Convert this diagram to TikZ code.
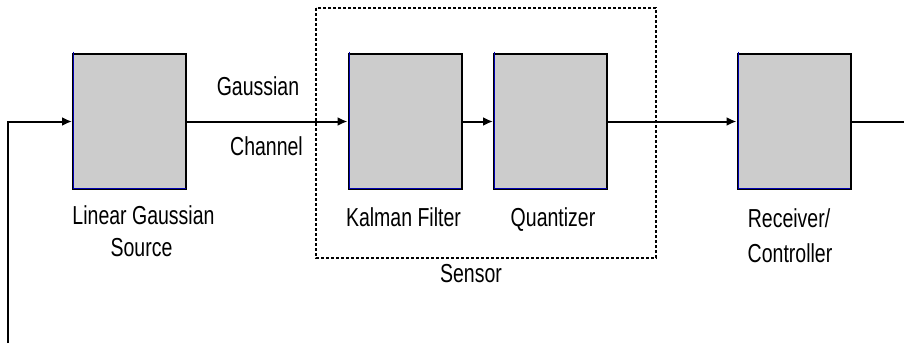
\documentclass[tikz,border=0pt]{standalone}
\usepackage{fontspec}
\setmainfont[FakeStretch=0.75]{Liberation Sans}
\usetikzlibrary{arrows.meta}
\begin{document}
\begin{tikzpicture}[x=1pt,y=-1pt,
  block/.style={draw=black,line width=2pt,fill=black!20,minimum width=113pt,minimum height=135pt,inner sep=0pt},
  lbl/.style={inner sep=0pt,anchor=base,font=\fontsize{26}{30}\selectfont},
  wire/.style={line width=2pt},
  arr/.style={wire,-{Latex[length=10pt,width=9pt]}},
  group/.style={draw=black,line width=1.5pt,dash pattern=on 3pt off 2pt}]
\useasboundingbox (0,0) rectangle (904,343);

% dashed sensor enclosure
\draw[group] (316,8) rectangle (656,258);

% blocks
\node[block] (src) at (129.5,121.5) {};
\node[block] (kf)  at (405,121.5) {};
\node[block] (qz)  at (550.5,121.5) {};
\node[block] (rc)  at (794,121.5) {};

% thin blue inner edge on left and bottom of each block
\foreach \b in {src,kf,qz,rc}{
  \draw[blue!70!black,line width=0.8pt]
    ([xshift=1.4pt,yshift=1.4pt]\b.north west) -- ([xshift=1.4pt,yshift=1.4pt]\b.south west)
    -- ([xshift=-1.4pt,yshift=1.4pt]\b.south east);
}

% loose ends
\coordinate (fb) at (8,343);
\coordinate (out) at (904,121.5);

% connectors
\draw[arr] (fb) |- (src.west);
\draw[arr] (src.east) -- (kf.west);
\draw[arr] (kf.east) -- (qz.west);
\draw[arr] (qz.east) -- (rc.west);
\draw[wire] (rc.east) -- (out);

% labels
\node[lbl] (t1) at (258,95) {Gaussian};
\node[lbl] (t2) at (266.5,155) {Channel};
\node[lbl] (t3) at (143.5,224) {Linear Gaussian};
\node[lbl] (t4) at (141.5,256) {Source};
\node[lbl] (t5) at (403.5,226) {Kalman Filter};
\node[lbl] (t6) at (553,226) {Quantizer};
\node[lbl] (t7) at (471,282) {Sensor};
\node[lbl] (t8) at (789,227) {Receiver/};
\node[lbl] (t9) at (790,262) {Controller};
\end{tikzpicture}
\end{document}
